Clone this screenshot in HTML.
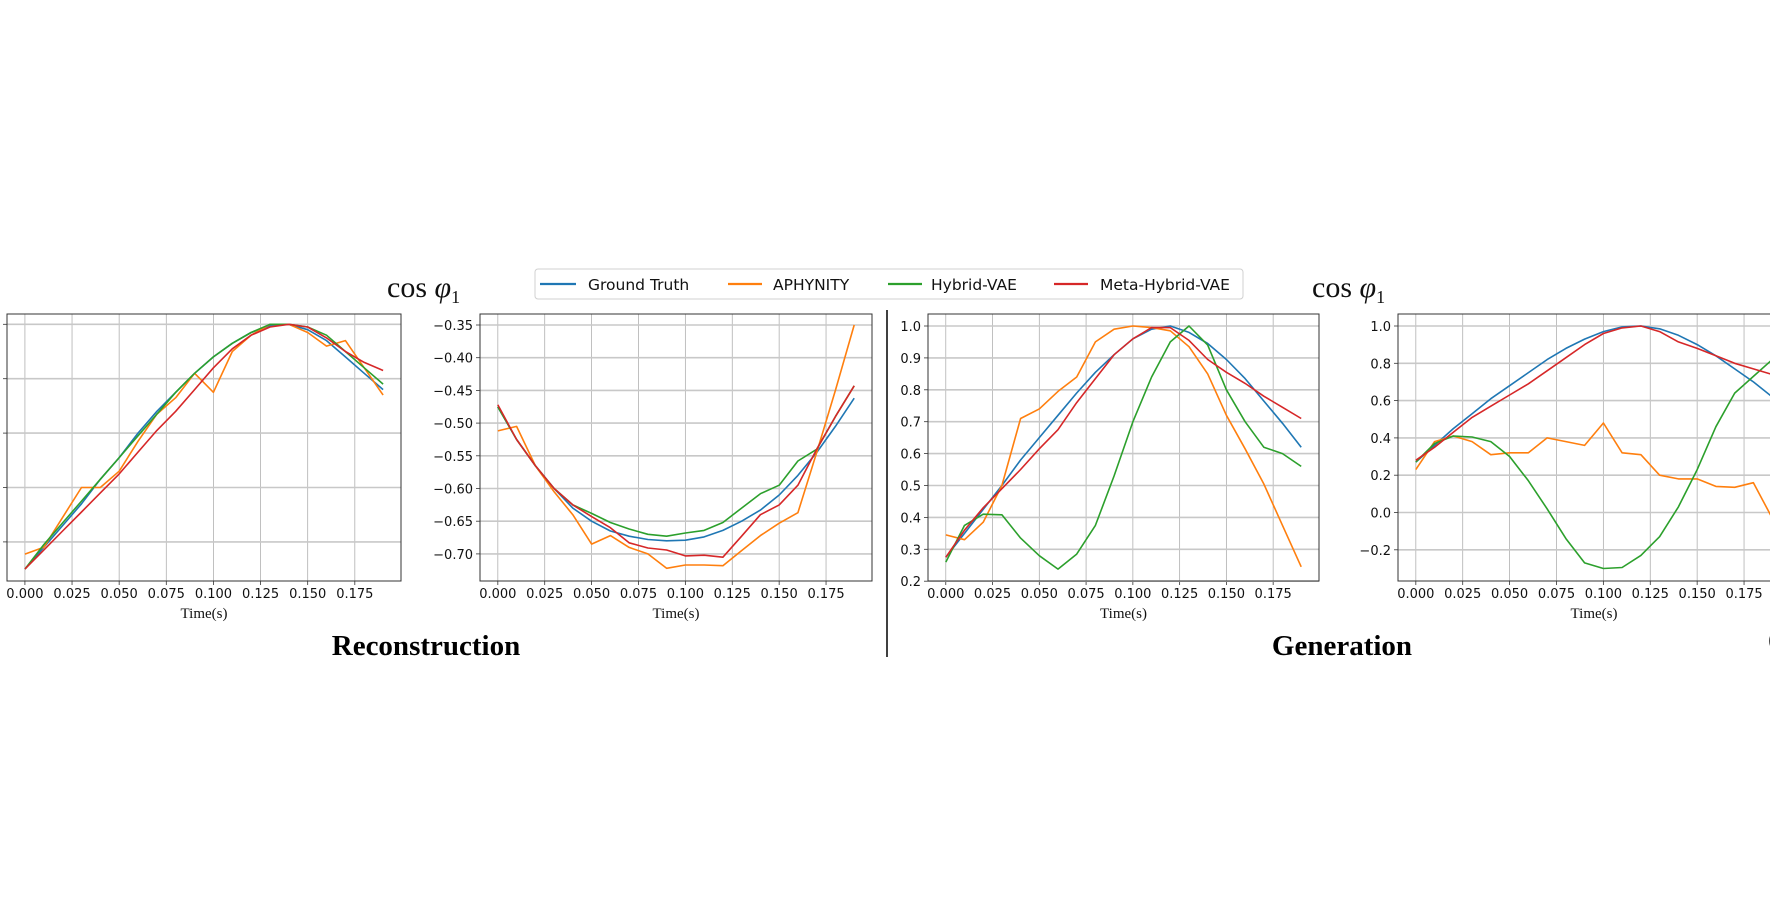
<!DOCTYPE html>
<html><head><meta charset="utf-8"><style>
html,body{margin:0;padding:0;background:#fff;}
svg{display:block;}
</style></head><body>
<svg id="s" width="1770" height="923" xmlns="http://www.w3.org/2000/svg" font-family="'DejaVu Sans',sans-serif">
<rect width="1770" height="923" fill="#fff"/>
</svg>
<script>
const S=document.getElementById('s');const NS='http://www.w3.org/2000/svg';
function el(t,a,txt){const e=document.createElementNS(NS,t);for(const k in a)e.setAttribute(k,a[k]);if(txt!==undefined)e.textContent=txt;S.appendChild(e);return e;}
const C=['#1f77b4','#ff7f0e','#2ca02c','#d62728'];
const T=[];for(let i=0;i<20;i++)T.push(i*0.01);
function plot(p){
 const {L,R,top,bot,yv,yticks,labels,data}=p;
 const xf=t=>L+(t+0.0095)/0.209*(R-L);
 el('rect',{x:L,y:top,width:R-L,height:bot-top,fill:'#fff'});
 for(let k=0;k<8;k++){const t=k*0.025,x=xf(t);
  el('line',{x1:x,y1:top,x2:x,y2:bot,stroke:'#b0b0b0','stroke-width':0.8});
  el('line',{x1:x,y1:bot,x2:x,y2:bot+4,stroke:'#333','stroke-width':0.8});
  el('text',{x:x,y:bot+17,'font-size':13,'text-anchor':'middle',fill:'#111'},t.toFixed(3));}
 yticks.forEach((v,i)=>{const y=yv(v);
  el('line',{x1:L,y1:y,x2:R,y2:y,stroke:'#c8c8c8','stroke-width':1.6});
  el('line',{x1:L-4,y1:y,x2:L,y2:y,stroke:'#333','stroke-width':0.8});
  if(labels)el('text',{x:L-7,y:y+5,'font-size':13,'text-anchor':'end',fill:'#111'},labels[i]);});
 data.forEach((d,i)=>{el('polyline',{points:d.map((v,j)=>xf(T[j]).toFixed(1)+','+yv(v).toFixed(1)).join(' '),fill:'none',stroke:C[i],'stroke-width':1.6,'stroke-linejoin':'round'});});
 el('rect',{x:L,y:top,width:R-L,height:bot-top,fill:'none',stroke:'#333','stroke-width':1});
 el('text',{x:xf(0.095),y:bot+37,'font-size':15,'text-anchor':'middle','font-family':"'Liberation Serif',serif",fill:'#111'},'Time(s)');
}
plot({L:7,R:401,top:314,bot:581,yv:v=>324.3+(1-v)/0.2*54.4,yticks:[1,0.8,0.6,0.4,0.2],labels:null,data:[
[.10,.18,.26,.34,.43,.51,.60,.68,.75,.82,.88,.93,.97,.995,1.0,.98,.94,.88,.82,.76],
[.155,.18,.29,.40,.40,.46,.57,.67,.73,.82,.75,.90,.96,1.0,1.0,.97,.92,.94,.84,.74],
[.10,.19,.27,.35,.43,.51,.59,.67,.75,.82,.88,.93,.97,1.0,1.0,.99,.96,.90,.84,.78],
[.10,.17,.24,.31,.38,.45,.53,.61,.68,.76,.84,.91,.96,.99,1.0,.99,.95,.90,.86,.83]]});
plot({L:480,R:872,top:314,bot:581,yv:v=>325+(-0.35-v)/0.05*32.7,yticks:[-0.35,-0.4,-0.45,-0.5,-0.55,-0.6,-0.65,-0.7],labels:['−0.35','−0.40','−0.45','−0.50','−0.55','−0.60','−0.65','−0.70'],data:[
[-0.475,-0.525,-0.565,-0.60,-0.63,-0.65,-0.665,-0.673,-0.678,-0.68,-0.679,-0.674,-0.664,-0.65,-0.633,-0.61,-0.58,-0.545,-0.505,-0.462],
[-0.512,-0.505,-0.565,-0.605,-0.64,-0.685,-0.672,-0.69,-0.70,-0.722,-0.717,-0.717,-0.718,-0.695,-0.672,-0.653,-0.637,-0.545,-0.45,-0.35],
[-0.475,-0.525,-0.565,-0.60,-0.625,-0.638,-0.652,-0.662,-0.670,-0.673,-0.668,-0.664,-0.652,-0.630,-0.608,-0.595,-0.558,-0.540,-0.49,-0.443],
[-0.472,-0.525,-0.565,-0.60,-0.625,-0.643,-0.66,-0.683,-0.691,-0.694,-0.703,-0.702,-0.705,-0.673,-0.64,-0.625,-0.595,-0.54,-0.49,-0.443]]});
plot({L:928,R:1319,top:314,bot:581,yv:v=>326+(1-v)/0.1*31.9,yticks:[1,.9,.8,.7,.6,.5,.4,.3,.2],labels:['1.0','0.9','0.8','0.7','0.6','0.5','0.4','0.3','0.2'],data:[
[.275,.35,.425,.50,.58,.65,.72,.79,.855,.91,.96,.99,1.0,.98,.945,.895,.835,.765,.695,.62],
[.345,.33,.385,.50,.71,.74,.795,.84,.95,.99,1.0,.995,.985,.935,.85,.72,.615,.505,.375,.245],
[.26,.375,.41,.408,.335,.28,.238,.285,.375,.53,.70,.84,.95,1.0,.94,.80,.70,.62,.60,.56],
[.275,.36,.43,.49,.55,.615,.675,.76,.835,.91,.96,.995,.995,.955,.895,.855,.82,.78,.745,.71]]});
plot({L:1398,R:1790,top:314,bot:581,yv:v=>326+(1-v)/0.2*37.3,yticks:[1,.8,.6,.4,.2,0,-.2],labels:['1.0','0.8','0.6','0.4','0.2','0.0','−0.2'],data:[
[.27,.36,.45,.53,.61,.68,.75,.82,.88,.93,.97,.995,1.0,.985,.95,.90,.84,.77,.70,.62],
[.23,.38,.41,.38,.31,.32,.32,.40,.38,.36,.48,.32,.31,.20,.18,.18,.14,.135,.16,-0.03],
[.27,.37,.41,.405,.38,.30,.17,.02,-.14,-.27,-.30,-.295,-.23,-.13,.03,.23,.46,.64,.73,.82],
[.28,.35,.43,.51,.57,.63,.69,.76,.83,.90,.96,.99,1.0,.97,.915,.88,.84,.80,.77,.74]]});
// divider
el('line',{x1:887,y1:310,x2:887,y2:657,stroke:'#000','stroke-width':1.5});
// legend
el('rect',{x:535,y:269,width:708,height:30,rx:3,fill:'#fff',stroke:'#d0d0d0','stroke-width':1});
[[540,576,588,'Ground Truth'],[728,762,773,'APHYNITY'],[888,922,931,'Hybrid-VAE'],[1054,1088,1100,'Meta-Hybrid-VAE']].forEach((e,i)=>{
 el('line',{x1:e[0],y1:284,x2:e[1],y2:284,stroke:C[i],'stroke-width':2.2});
 el('text',{x:e[2],y:290,'font-size':15.5,fill:'#111'},e[3]);});
// cos phi labels
[387,1312].forEach(x=>{const t=el('text',{x:x,y:297,'font-size':30,'font-family':"'Liberation Serif',serif",fill:'#111'});
 t.innerHTML='cos <tspan font-style="italic">φ</tspan><tspan font-size="18" dy="6">1</tspan>';});
el('text',{x:426,y:655,'font-size':29,'font-weight':'bold','text-anchor':'middle','font-family':"'Liberation Serif',serif",fill:'#000'},'Reconstruction');
el('text',{x:1342,y:655,'font-size':29,'font-weight':'bold','text-anchor':'middle','font-family':"'Liberation Serif',serif",fill:'#000'},'Generation');
el('circle',{cx:1782,cy:641,r:13,fill:'#444'});
</script>
</body></html>
